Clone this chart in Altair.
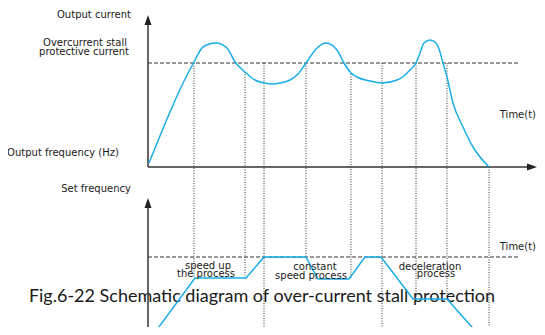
import altair as alt
import pandas as pd

# Schematic units: t = time from origin, v = vertical level (0 = top panel time axis)
cur_t = [1, 46, 55, 68, 79, 87, 97, 107, 116, 125, 132, 142, 150, 158, 169, 178, 189, 196, 203, 209, 222, 234, 249, 256, 262, 268, 272, 276, 282, 288, 292, 295, 299, 305, 315, 325, 341]
cur_v = [4, 105, 120, 124, 119, 105, 95, 87, 84, 83, 84, 87, 93, 104, 119, 124, 117, 104, 94, 90, 86, 84, 87, 91, 97, 104, 114, 124, 127, 124, 115, 104, 90, 64, 40, 20, 0]

setf_t = [5, 47, 98, 116, 158, 170, 201, 217, 233, 265, 299, 331]
setf_v = [-168, -111, -111, -90, -90, -112, -112, -90, -90, -132, -132, -168]

guide_t = [46, 97, 116, 158, 203, 234, 268, 299, 341]
guide_top = [104, 95, 104, 104, 93, 104, 104, 104, 0]
guide_bot = [-111, -111, -168, -90, -112, -168, -132, -132, -168]

stall_level = [104]
target_level = [-90]
dash_end = [370]

axis_x1 = [0, 0, 0]
axis_x2 = [0, 380, 0]
axis_y1 = [0, 0, -168]
axis_y2 = [146, 0, -38]

arrow_t = [0, 384, 0]
arrow_v = [147, 0, -36]
arrow_angle = [0, 90, 0]

label_text = ["Output current", "Overcurrent stall", "protective current", "Output frequency (Hz)",
              "Time(t)", "Set frequency", "Time(t)", "speed up", "the process", "constant",
              "speed process", "deceleration", "process"]
label_t = [-54, -63, -64, -85, 388, -52, 388, 60, 58, 167, 163, 282, 288]
label_v = [152, 124, 115, 14, 52, -22, -80, -99, -107, -100, -109, -100, -107]
label_align = ["center", "center", "center", "center", "right", "center", "right",
               "center", "center", "center", "center", "center", "center"]

caption = ["Fig.6-22  Schematic diagram of over-current stall protection"]
caption_t = [114]
caption_v = [-130]

xs = alt.Scale(domain=[-140, 389])
ys = alt.Scale(domain=[-160, 159])
X = lambda f: alt.X(f, type="quantitative", scale=xs, axis=None)
Y = lambda f: alt.Y(f, type="quantitative", scale=ys, axis=None)

AX = "#333333"
BLUE = "#19aee8"

cap = alt.Chart(pd.DataFrame({"t": caption_t, "v": caption_v, "s": caption})).mark_text(
    font="Lato", fontSize=18, color="#1a1a1a", align="center", baseline="middle"
).encode(x=X("t"), y=Y("v"), text="s:N")

guides = alt.Chart(pd.DataFrame({"t": guide_t, "a": guide_top, "b": guide_bot})).mark_rule(
    color=AX, strokeWidth=1, strokeDash=[1, 1.5]
).encode(x=X("t"), y=Y("a"), y2="b:Q")

dashed = alt.Chart(pd.DataFrame({"s": [0, 0], "e": dash_end * 2, "v": stall_level + target_level})).mark_rule(
    color=AX, strokeWidth=1, strokeDash=[4, 2]
).encode(x=X("s"), x2="e:Q", y=Y("v"))

axes = alt.Chart(pd.DataFrame({"x1": axis_x1, "x2": axis_x2, "y1": axis_y1, "y2": axis_y2})).mark_rule(
    color=AX, strokeWidth=1.5
).encode(x=X("x1"), x2="x2:Q", y=Y("y1"), y2="y2:Q")

arrows = alt.Chart(pd.DataFrame({"t": arrow_t, "v": arrow_v, "a": arrow_angle})).mark_point(
    shape="M0,-1L0.7,1L-0.7,1Z", filled=True, color="#222222", size=100, opacity=1
).encode(x=X("t"), y=Y("v"), angle=alt.Angle("a:Q", scale=None))

cur = alt.Chart(pd.DataFrame({"t": cur_t, "v": cur_v})).mark_line(
    color=BLUE, strokeWidth=1.5, interpolate="monotone"
).encode(x=X("t"), y=Y("v"))

setf = alt.Chart(pd.DataFrame({"t": setf_t, "v": setf_v})).mark_line(
    color=BLUE, strokeWidth=1.5
).encode(x=X("t"), y=Y("v"))

lab_df = pd.DataFrame({"t": label_t, "v": label_v, "s": label_text, "al": label_align})
labels_c = alt.Chart(lab_df[lab_df.al == "center"]).mark_text(
    font="DejaVu Sans", fontSize=10, color="#1a1a1a", align="center", baseline="middle"
).encode(x=X("t"), y=Y("v"), text="s:N")
labels_r = alt.Chart(lab_df[lab_df.al == "right"]).mark_text(
    font="DejaVu Sans", fontSize=10, color="#1a1a1a", align="right", baseline="middle"
).encode(x=X("t"), y=Y("v"), text="s:N")

chart = alt.layer(cap, guides, dashed, axes, arrows, cur, setf, labels_c, labels_r).properties(
    width=529, height=319, padding=0, autosize=alt.AutoSizeParams(type="none")
).configure_view(stroke=None)

chart.save("out.html", embed_options={"renderer": "svg", "actions": False})
